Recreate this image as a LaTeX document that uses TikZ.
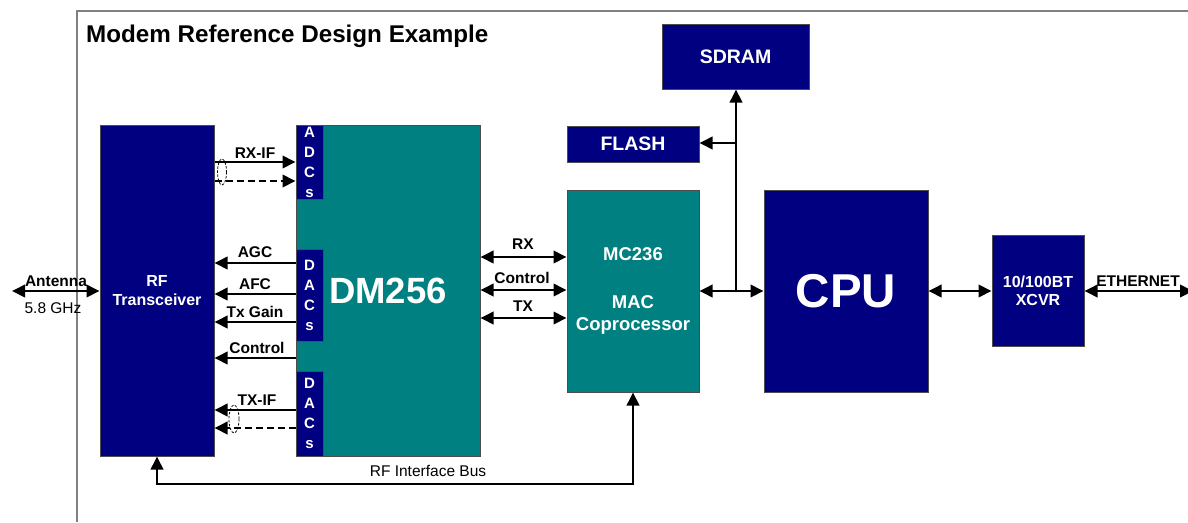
\documentclass[tikz,border=0pt]{standalone}
\usepackage{fontspec}
\setmainfont{Liberation Sans}
\usetikzlibrary{arrows.meta,calc}
\definecolor{navy}{RGB}{0,0,128}
\definecolor{tealc}{RGB}{0,128,128}
\definecolor{framegray}{RGB}{128,128,128}
\begin{document}
\begin{tikzpicture}[x=1pt,y=-1pt,
  blk/.style={draw=black!70, line width=1pt, inner sep=0pt, text=white, align=center},
  nv/.style={blk, fill=navy},
  tl/.style={blk, fill=tealc},
  tipa/.tip={Triangle[length=13pt,width=12.5pt]},
  arr/.style={line width=2pt, -tipa},
  darr/.style={line width=2pt, tipa-tipa},
  dsh/.style={dash pattern=on 7pt off 4pt},
  lab/.style={font=\bfseries\fontsize{15.5}{17}\selectfont, inner sep=0pt, anchor=base},
  rlab/.style={font=\fontsize{15.5}{17}\selectfont, inner sep=0pt, anchor=base},
  vlet/.style={font=\bfseries\fontsize{15}{20}\selectfont},
  loop/.style={line width=0.8pt, dash pattern=on 2.5pt off 1.5pt},
  ]
\useasboundingbox (0,0) rectangle (1188,522);
% frame
\draw[framegray, line width=1.5pt] (77,522) -- (77,11) -- (1188,11);
\node[font=\bfseries\fontsize{24.2}{27}\selectfont, inner sep=0pt, anchor=base west] (title) at (86,42) {Modem Reference Design Example};

% blocks
\node[nv, minimum width=114pt, minimum height=331pt, font=\bfseries\fontsize{16}{19}\selectfont] (rf) at (157,290.5) {RF\\Transceiver};
\node[tl, minimum width=184pt, minimum height=331pt, font=\bfseries\fontsize{36.5}{40}\selectfont] (dm) at (388,290.5) {DM256};
\node[nv, vlet, minimum width=27pt, minimum height=74pt] (adc) at (309.5,162) {A\\D\\C\\s};
\node[nv, vlet, minimum width=27pt, minimum height=92pt] (dac1) at (309.5,295) {D\\A\\C\\s};
\node[nv, vlet, minimum width=27pt, minimum height=85pt] (dac2) at (309.5,413.5) {D\\A\\C\\s};
\node[nv, minimum width=132pt, minimum height=36pt, font=\bfseries\fontsize{19.5}{22}\selectfont] (flash) at (633,144) {FLASH};
\node[nv, minimum width=147pt, minimum height=65pt, font=\bfseries\fontsize{19.5}{22}\selectfont] (sdram) at (735.5,56.5) {SDRAM};
\node[tl, minimum width=132pt, minimum height=202pt, font=\bfseries\fontsize{18.5}{22}\selectfont] (mc) at (633,291) {MC236\\[26pt]MAC\\Coprocessor};
\node[nv, minimum width=164pt, minimum height=202pt, font=\bfseries\fontsize{47.5}{52}\selectfont] (cpu) at (846,291) {CPU};
\node[nv, minimum width=92pt, minimum height=111pt, font=\bfseries\fontsize{16}{18}\selectfont] (xcvr) at (1038,290.5) {10/100BT\\XCVR};

% RF <-> DM256 signals
\draw[arr] (rf.east |- 0,162) -- (adc.west |- 0,162);
\draw[arr, dsh] (rf.east |- 0,181) -- (adc.west |- 0,181);
\draw[loop] (222,172) ellipse [x radius=4.5, y radius=13];
\node[lab] (lrxif) at (255,158) {RX-IF};

\draw[arr] (dac1.west |- 0,263) -- (rf.east |- 0,263);
\node[lab] (lagc) at (255,257) {AGC};
\draw[arr] (dac1.west |- 0,294) -- (rf.east |- 0,294);
\node[lab] (lafc) at (255,289) {AFC};
\draw[arr] (dac1.west |- 0,322) -- (rf.east |- 0,322);
\node[lab] (ltxg) at (255,317) {Tx Gain};
\draw[arr] (dm.west |- 0,358) -- (rf.east |- 0,358);
\node[lab] (lctl) at (257,353) {Control};
\draw[arr] (dac2.west |- 0,410) -- (rf.east |- 0,410);
\draw[arr, dsh] (dac2.west |- 0,428) -- (rf.east |- 0,428);
\draw[loop] (234,419) ellipse [x radius=5, y radius=14];
\node[lab] (ltxif) at (257,405) {TX-IF};

% antenna
\coordinate (ant) at (12,291);
\draw[darr] (ant) -- (rf.west |- 0,291);
\node[lab] (lant) at (56,286) {Antenna};
\node[rlab] (lfreq) at (53,313) {5.8 GHz};

% DM256 <-> MC236
\draw[darr] (dm.east |- 0,257) -- (mc.west |- 0,257);
\node[lab] (lrx) at (523,249) {RX};
\draw[darr] (dm.east |- 0,290) -- (mc.west |- 0,290);
\node[lab] (lctl2) at (522,283) {Control};
\draw[darr] (dm.east |- 0,318) -- (mc.west |- 0,318);
\node[lab] (ltx) at (523,311) {TX};

% host bus
\draw[darr] (mc.east |- 0,291) -- (cpu.west |- 0,291);
\coordinate (j) at (736,291);
\draw[arr] (j) -- (j |- sdram.south);
\coordinate (jf) at (736,143);
\draw[arr] (jf) -- (flash.east |- jf);

% CPU <-> XCVR <-> Ethernet
\draw[darr] (cpu.east |- 0,291) -- (xcvr.west |- 0,291);
\coordinate (eth) at (1193,291);
\draw[darr] (xcvr.east |- 0,291) -- (eth);
\node[lab] (leth) at (1138,286) {ETHERNET};

% RF interface bus
\draw[darr] (rf.south) -- (rf.south |- 0,484) -- (mc.south |- 0,484) -- (mc.south);
\node[rlab] (lbus) at (428,476) {RF Interface Bus};
\end{tikzpicture}
\end{document}
